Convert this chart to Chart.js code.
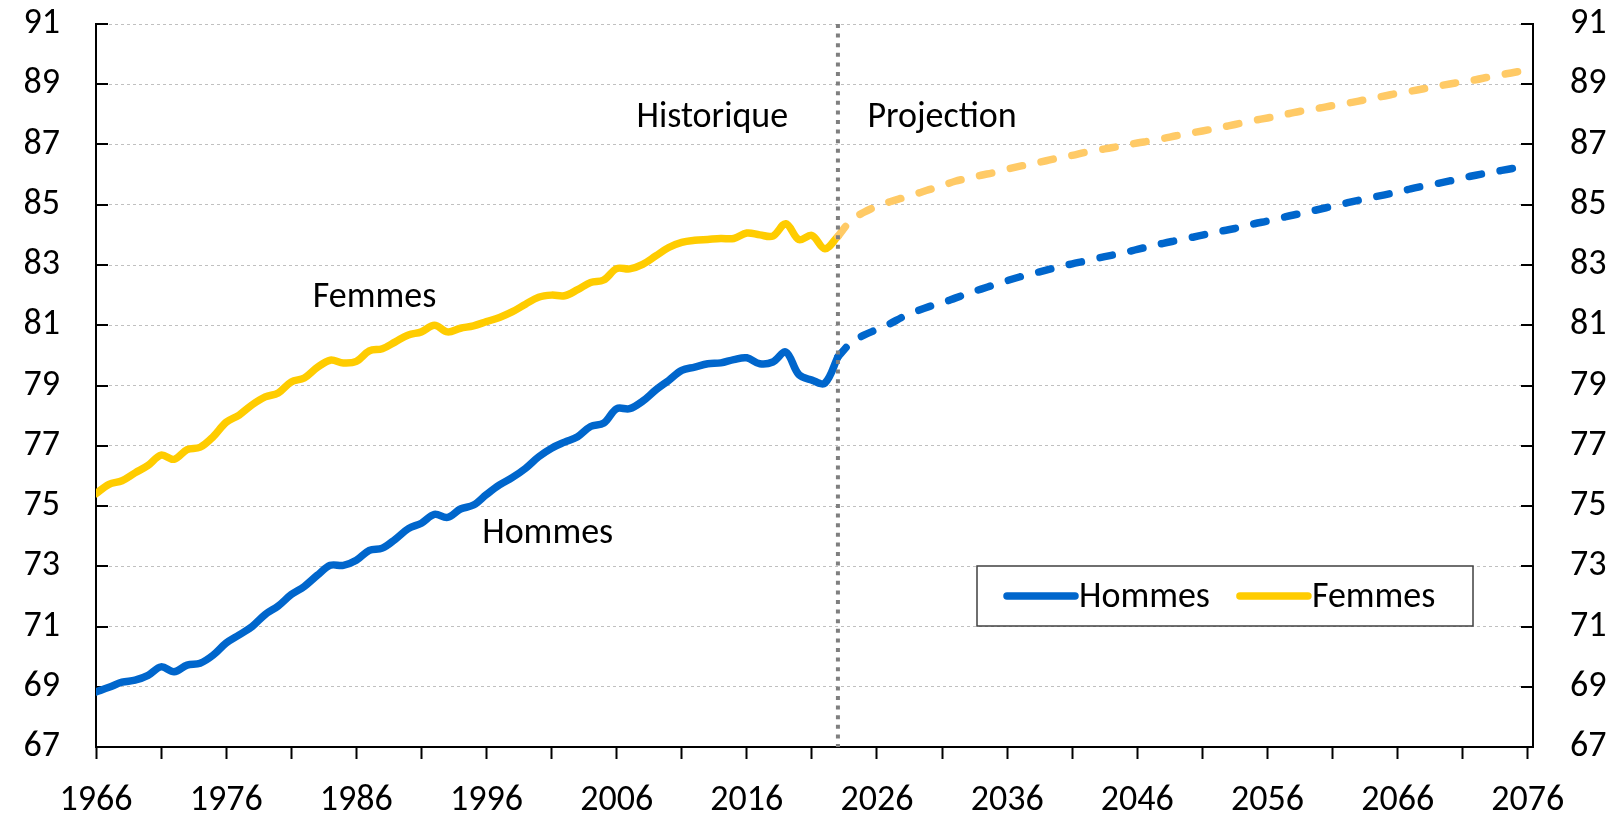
<!DOCTYPE html>
<html lang="fr">
<head>
<meta charset="utf-8">
<title>Espérance de vie à la naissance – Hommes / Femmes</title>
<script src="https://cdn.jsdelivr.net/npm/chart.js@4.4.1/dist/chart.umd.min.js"></script>
<style>
  html, body { margin: 0; padding: 0; background: #fff; }
  #wrap { position: relative; width: 1620px; height: 817px; }
</style>
</head>
<body>
<div id="wrap"><canvas id="chart"></canvas></div>
<script>
// --- Données ---
const histStart = 1966;
const projStart = 2023;

const hommesHist = [
  68.83, 68.98, 69.15, 69.22, 69.38, 69.66, 69.50, 69.72, 69.78, 70.05,
  70.45, 70.72, 71.00, 71.40, 71.68, 72.06, 72.33, 72.70, 73.03, 73.03,
  73.20, 73.53, 73.60, 73.90, 74.25, 74.43, 74.72, 74.62, 74.90, 75.03,
  75.38, 75.70, 75.95, 76.25, 76.63, 76.92, 77.12, 77.30, 77.64, 77.75,
  78.23, 78.23, 78.48, 78.85, 79.17, 79.50, 79.61, 79.72, 79.75, 79.86,
  79.92, 79.72, 79.78, 80.11, 79.36, 79.18, 79.08, 79.95
];
const femmesHist = [
  75.41, 75.72, 75.84, 76.10, 76.35, 76.69, 76.55, 76.87, 76.95, 77.30,
  77.78, 78.02, 78.36, 78.62, 78.75, 79.12, 79.25, 79.60, 79.84, 79.75,
  79.80, 80.15, 80.22, 80.45, 80.68, 80.78, 81.00, 80.78, 80.90, 80.98,
  81.12, 81.26, 81.45, 81.70, 81.93, 82.00, 81.98, 82.18, 82.42, 82.50,
  82.88, 82.87, 83.02, 83.30, 83.58, 83.75, 83.82, 83.85, 83.88, 83.88,
  84.06, 84.00, 83.96, 84.37, 83.84, 83.98, 83.54, 83.95
];
// projections 2023 -> 2076
const hommesProj = [
  79.95, 80.42, 80.67, 80.86, 81.05, 81.28, 81.46, 81.62, 81.74, 81.90,
  82.06, 82.20, 82.34, 82.48, 82.61, 82.72, 82.83, 82.94, 83.04, 83.13,
  83.23, 83.32, 83.41, 83.52, 83.62, 83.72, 83.81, 83.90, 83.99, 84.09,
  84.17, 84.26, 84.37, 84.46, 84.56, 84.66, 84.75, 84.85, 84.95, 85.05,
  85.15, 85.24, 85.33, 85.42, 85.53, 85.62, 85.70, 85.79, 85.89, 85.98,
  86.06, 86.14, 86.22, 86.30
];
const femmesProj = [
  83.95, 84.48, 84.75, 84.95, 85.10, 85.23, 85.36, 85.50, 85.63, 85.78,
  85.88, 85.98, 86.07, 86.18, 86.28, 86.37, 86.46, 86.56, 86.64, 86.74,
  86.82, 86.89, 86.97, 87.05, 87.12, 87.20, 87.29, 87.37, 87.45, 87.53,
  87.62, 87.71, 87.80, 87.88, 87.96, 88.06, 88.14, 88.21, 88.29, 88.36,
  88.44, 88.53, 88.61, 88.70, 88.77, 88.85, 88.93, 89.01, 89.08, 89.15,
  89.24, 89.32, 89.40, 89.47
];

// graduations
const xTickYears = [1966, 1971, 1976, 1981, 1986, 1991, 1996, 2001, 2006, 2011, 2016,
                    2021, 2026, 2031, 2036, 2041, 2046, 2051, 2056, 2061, 2066, 2071, 2076];
const xLabelYears = [1966, 1976, 1986, 1996, 2006, 2016, 2026, 2036, 2046, 2056, 2066, 2076];

// textes posés sur le graphique (ancrés en coordonnées de données)
const noteTexts = ['Historique', 'Projection', 'Femmes', 'Hommes'];
const noteYears = [2013.35, 2031.0, 1987.4, 2000.7];
const noteValues = [87.94, 87.94, 81.98, 74.14];

// --- Style ---
const FONT = 'Carlito, Calibri, Lato, sans-serif';
const FONT_SIZE = 36;
const BLUE = '#0066CC';
const YELLOW = '#FFCC00';
const YELLOW_LIGHT = '#FFCA66';
const LINE_W = 7.5;

const toPoints = (start, values) => values.map((v, i) => ({ x: start + i, y: v }));

// petites graduations vers l'intérieur sur les deux axes verticaux
const inwardTicks = {
  id: 'inwardTicks',
  beforeDatasetsDraw(chart) {
    const { ctx, chartArea: a, scales: { y } } = chart;
    ctx.save();
    ctx.strokeStyle = '#000';
    ctx.lineWidth = 2;
    y.ticks.forEach(t => {
      const py = Math.round(y.getPixelForValue(t.value));
      ctx.beginPath();
      ctx.moveTo(a.left, py); ctx.lineTo(a.left + 12, py);
      ctx.moveTo(a.right - 12, py); ctx.lineTo(a.right, py);
      ctx.stroke();
    });
    ctx.restore();
  }
};

// ligne pointillée verticale : début de la projection
const projectionLine = {
  id: 'projectionLine',
  afterDatasetsDraw(chart) {
    const { ctx, chartArea: a, scales: { x } } = chart;
    const px = x.getPixelForValue(projStart);
    ctx.save();
    ctx.strokeStyle = '#7F7F7F';
    ctx.lineWidth = 4;
    ctx.setLineDash([4, 5.6]);
    ctx.beginPath();
    ctx.moveTo(px, a.top);
    ctx.lineTo(px, a.bottom);
    ctx.stroke();
    ctx.restore();
  }
};

// étiquettes de texte (Historique, Projection, Femmes, Hommes)
const notes = {
  id: 'notes',
  afterDatasetsDraw(chart) {
    const { ctx, scales: { x, y } } = chart;
    ctx.save();
    ctx.font = `${FONT_SIZE}px ${FONT}`;
    ctx.fillStyle = '#000';
    ctx.textAlign = 'center';
    ctx.textBaseline = 'alphabetic';
    noteTexts.forEach((txt, i) => {
      const px = x.getPixelForValue(noteYears[i]);
      const py = y.getPixelForValue(noteValues[i]) + FONT_SIZE * 0.31;
      ctx.fillText(txt, px, py);
    });
    ctx.restore();
  }
};

// légende encadrée, dans la zone du graphique
const legendBox = {
  id: 'legendBox',
  afterDraw(chart) {
    const { ctx } = chart;
    const box = { x: 977, y: 566, w: 496, h: 60 };
    const items = chart.data.datasets.filter(d => d.inLegend);
    ctx.save();
    ctx.fillStyle = '#fff';
    ctx.fillRect(box.x, box.y, box.w, box.h);
    ctx.strokeStyle = '#404040';
    ctx.lineWidth = 1.5;
    ctx.strokeRect(box.x, box.y, box.w, box.h);

    ctx.font = `${FONT_SIZE}px ${FONT}`;
    ctx.textBaseline = 'alphabetic';
    ctx.textAlign = 'left';
    const cy = box.y + box.h / 2;
    let cx = box.x + 30;
    items.forEach(d => {
      ctx.strokeStyle = d.borderColor;
      ctx.lineWidth = LINE_W;
      ctx.lineCap = 'round';
      ctx.beginPath();
      ctx.moveTo(cx, cy);
      ctx.lineTo(cx + 68, cy);
      ctx.stroke();
      ctx.fillStyle = '#000';
      ctx.fillText(d.label, cx + 72, cy + FONT_SIZE * 0.31);
      cx += 72 + ctx.measureText(d.label).width + 30;
    });
    ctx.restore();
  }
};

const lineDefaults = {
  borderWidth: LINE_W,
  pointRadius: 0,
  pointHoverRadius: 0,
  tension: 0.35,
  borderCapStyle: 'round',
  borderJoinStyle: 'round',
  clip: 0,
  fill: false
};

// largeur fixe des axes verticaux, sans marge supplémentaire en haut/bas
const fixWidth = w => s => { s.width = w; s.paddingTop = 0; s.paddingBottom = 0; };

new Chart(document.getElementById('chart'), {
  type: 'line',
  data: {
    datasets: [
      { ...lineDefaults, label: 'Hommes', inLegend: true, data: toPoints(histStart, hommesHist), borderColor: BLUE, order: 2 },
      { ...lineDefaults, label: 'Femmes', inLegend: true, data: toPoints(histStart, femmesHist), borderColor: YELLOW, order: 2 },
      { ...lineDefaults, label: 'Hommes (projection)', data: toPoints(projStart, hommesProj), borderColor: BLUE, borderDash: [12.5, 19], order: 1 },
      { ...lineDefaults, label: 'Femmes (projection)', data: toPoints(projStart, femmesProj), borderColor: YELLOW_LIGHT, borderDash: [12.5, 19], order: 1 }
    ]
  },
  options: {
    responsive: true,
    maintainAspectRatio: false,
    animation: false,
    events: [],
    layout: { padding: { top: 24, left: 0, right: 0, bottom: 0 } },
    plugins: {
      legend: { display: false },
      tooltip: { enabled: false },
      title: { display: false }
    },
    scales: {
      x: {
        type: 'linear',
        min: 1966,
        max: 2076.4,
        afterBuildTicks: s => { s.ticks = xTickYears.map(v => ({ value: v })); },
        afterFit: s => { s.height = 70; s.paddingLeft = 0; s.paddingRight = 0; },
        ticks: {
          autoSkip: false,
          maxRotation: 0,
          padding: 20,
          color: '#000',
          font: { family: FONT, size: FONT_SIZE },
          callback: v => xLabelYears.includes(v) ? String(v) : ''
        },
        grid: { drawOnChartArea: false, drawTicks: true, tickLength: 12, tickWidth: 2, tickColor: '#000' },
        border: { display: true, color: '#000', width: 2 }
      },
      y: {
        type: 'linear',
        position: 'left',
        min: 67,
        max: 91,
        afterFit: fixWidth(96),
        ticks: { stepSize: 2, padding: 36, color: '#000', font: { family: FONT, size: FONT_SIZE } },
        grid: { color: '#C0C0C0', lineWidth: 1, drawTicks: false },
        border: { display: true, color: '#000', width: 2, dash: [3, 3] }
      },
      y2: {
        type: 'linear',
        position: 'right',
        min: 67,
        max: 91,
        afterFit: fixWidth(87),
        ticks: { stepSize: 2, padding: 37, color: '#000', font: { family: FONT, size: FONT_SIZE } },
        grid: { drawOnChartArea: false, drawTicks: false },
        border: { display: true, color: '#000', width: 2 }
      }
    }
  },
  plugins: [inwardTicks, projectionLine, notes, legendBox]
});
</script>
</body>
</html>
